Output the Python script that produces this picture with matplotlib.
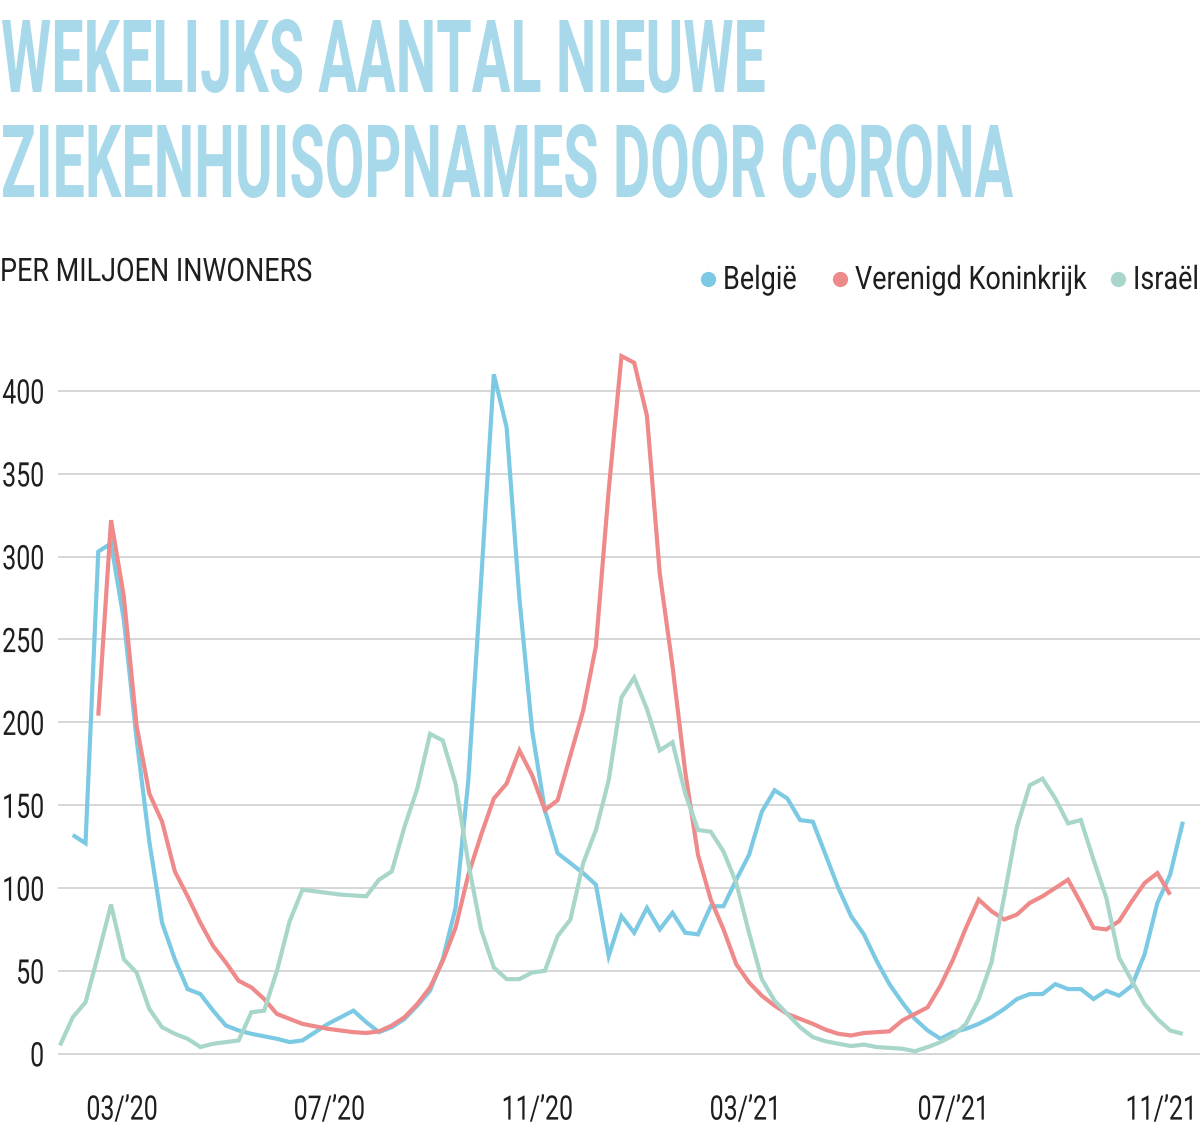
import numpy as np
import matplotlib
matplotlib.use("Agg")
import matplotlib.pyplot as plt
from matplotlib import patheffects
from matplotlib.transforms import Affine2D
from matplotlib.textpath import TextPath
from matplotlib.font_manager import FontProperties
from matplotlib.lines import Line2D

nan = np.nan

# ---------------- data (weekly hospital admissions per million) ----------------
belgie = [nan, 132, 127, 303, 308, 262, 190, 128, 79, 57,
          39, 36, 26, 17, 14, 12, 10.5, 9, 7, 8,
          13, 18, 22, 26, 19, 13, 16, 21, 29, 38,
          57, 88, 165, 285, 410, 378, 275, 195, 147, 121,
          115, 109, 102, 59, 83, 73, 88, 75, 85, 73,
          72, 89, 89, 105, 120, 146, 159, 154, 141, 140,
          120, 100, 83, 72, 56, 42, 31, 21, 14, 9,
          13, 15, 18, 22, 27, 33, 36, 36, 42, 39,
          39, 33, 38, 35, 41, 60, 91, 108, 140]

vk = [nan, nan, nan, 204, 322, 276, 198, 157, 140, 110,
      95, 79, 65, 55, 44, 40, 33, 24, 21, 18,
      16.5, 15, 14, 13, 12.5, 13.5, 17, 22, 30, 40,
      56, 76, 108, 132, 154, 163, 183, 168, 147, 153,
      180, 207, 246, 340, 421, 417, 385, 290, 234, 170,
      120, 93, 75, 54, 43, 35, 29, 24, 21, 18,
      14.5, 12, 11, 12.5, 13, 13.5, 20, 24, 28, 41,
      57, 76, 93, 86, 81, 84, 91, 95, 100, 105,
      91, 76, 75, 80, 92, 103, 109, 96, nan]

israel = [5, 22, 31, 60, 90, 57, 49, 27, 16, 12,
          9, 4, 6, 7, 8, 25, 26, 50, 80, 99,
          98, 97, 96, 95.5, 95, 105, 110, 137, 160, 193,
          189, 163, 115, 75, 52, 45, 45, 49, 50, 71,
          81, 115, 135, 165, 215, 227, 208, 183, 188, 157,
          135, 134, 122, 103, 73, 45, 32, 24, 16, 10,
          7.5, 6, 4.6, 5.5, 4, 3.5, 3, 1.5, 4, 7,
          11, 18, 33, 55, 95, 137, 162, 166, 154, 139,
          141, 117, 94, 58, 44, 30, 21, 14, 12]

weeks = np.arange(len(israel))

series_names = ["België", "Verenigd Koninkrijk", "Israël"]
series_values = [belgie, vk, israel]
series_colors = ["#7CC9E4", "#EF8A8A", "#A8D6CB"]
draw_order = [2, 0, 1]

yticks = [0, 50, 100, 150, 200, 250, 300, 350, 400]
xtick_pos = [4.85, 21.1, 37.4, 53.7, 70.0, 86.3]
xtick_labels = ["03/’20", "07/’20", "11/’20", "03/’21", "07/’21", "11/’21"]

title_lines = ["WEKELIJKS AANTAL NIEUWE", "ZIEKENHUISOPNAMES DOOR CORONA"]
subtitle = "PER MILJOEN INWONERS"

# ---------------- layout helpers ----------------
W, H, DPI = 1200, 1130, 100
FAM = ["Roboto", "DejaVu Sans"]
TITLE_COLOR = "#A8D9EA"
TEXT_COLOR = "#1E1E1E"


def fx(px):
    return px / W


def fy(py):
    return 1 - py / H


class Stretch(patheffects.AbstractPathEffect):
    """Vertically stretch the glyphs (imitates a condensed typeface)."""

    def __init__(self, sy, anchor="baseline"):
        super().__init__()
        self.sy = sy
        self.anchor = anchor

    def draw_path(self, renderer, gc, tpath, affine, rgbFace=None):
        ext = tpath.get_extents(affine)
        if self.anchor == "baseline":
            py = affine.get_matrix()[1, 2]
        elif self.anchor == "top":
            py = ext.y1
        else:
            py = 0.5 * (ext.y0 + ext.y1)
        t = affine + Affine2D().translate(0, -py).scale(1, self.sy).translate(0, py)
        renderer.draw_path(gc, tpath, t, rgbFace)


def cap_ratio(fp):
    return TextPath((0, 0), "H", size=100, prop=fp).get_extents().height / 100.0


def ink_width_em(s, fp):
    return TextPath((0, 0), s, size=100, prop=fp).get_extents().width / 100.0


def fit_font(weight, sample, width_px, cap_px):
    """Font size giving the wanted ink width, plus the vertical stretch for the cap height."""
    fp = FontProperties(family=FAM, weight=weight)
    size_px = width_px / ink_width_em(sample, fp)
    fp.set_size(size_px * 72 / DPI)
    sy = cap_px / (cap_ratio(fp) * size_px)
    return fp, sy


fp_t, sy_t = fit_font("bold", title_lines[1], 1010, 72)      # title
fp_s, sy_s = fit_font("normal", subtitle, 309, 23)           # subtitle / legend
fp_k, sy_k = fit_font("normal", "400", 40, 24)               # tick labels

# ---------------- figure ----------------
fig = plt.figure(figsize=(W / DPI, H / DPI), dpi=DPI, facecolor="white")

ax_left, ax_right, ax_top, ax_bottom = 58, 1200, 340, 1070
ax = fig.add_axes([fx(ax_left), fy(ax_bottom), (ax_right - ax_left) / W,
                   (ax_bottom - ax_top) / H])

zero_px, px_per_unit = 1053.7, 1.657
x0_px, px_per_week = 60.0, 12.76
ax.set_ylim((zero_px - ax_bottom) / px_per_unit, (zero_px - ax_top) / px_per_unit)
ax.set_xlim((ax_left - x0_px) / px_per_week, (ax_right - x0_px) / px_per_week)

for k in draw_order:
    ax.plot(weeks, np.array(series_values[k], dtype=float), color=series_colors[k],
            lw=3.0, solid_joinstyle="miter", solid_capstyle="butt", zorder=3 + k)

for s in ax.spines.values():
    s.set_visible(False)
ax.set_axisbelow(True)
ax.yaxis.grid(True, color="#CFCFCF", lw=1.2)
ax.xaxis.grid(False)

ax.set_yticks(yticks)
ax.set_yticklabels([str(v) for v in yticks], fontproperties=fp_k, color=TEXT_COLOR)
ax.tick_params(axis="y", length=0, pad=14 * 72 / DPI)
for lab in ax.get_yticklabels():
    lab.set_va("center_baseline")
    lab.set_path_effects([Stretch(sy_k, "center")])

ax.set_xticks(xtick_pos)
ax.set_xticklabels(xtick_labels, fontproperties=fp_k, color=TEXT_COLOR)
ax.tick_params(axis="x", length=0, pad=24 * 72 / DPI)
for lab in ax.get_xticklabels():
    lab.set_path_effects([Stretch(sy_k, "top")])

# title
for line, base in zip(title_lines, [92, 197]):
    fig.text(fx(1), fy(base), line, fontproperties=fp_t, color=TITLE_COLOR,
             ha="left", va="baseline", path_effects=[Stretch(sy_t, "baseline")])

# subtitle
fig.text(fx(0), fy(281), subtitle, fontproperties=fp_s, color=TEXT_COLOR,
         ha="left", va="baseline", path_effects=[Stretch(sy_s, "baseline")])

# legend
legend_dot_px = [708, 840, 1118]
for name, col, dx in zip(series_names, series_colors, legend_dot_px):
    fig.add_artist(Line2D([fx(dx)], [fy(279)], marker="o", ms=11, color=col,
                          mec="none", transform=fig.transFigure))
    fig.text(fx(dx + 15), fy(289), name, fontproperties=fp_s, color=TEXT_COLOR,
             ha="left", va="baseline", path_effects=[Stretch(sy_s, "baseline")])

fig.savefig("out.png", dpi=DPI, facecolor="white")
